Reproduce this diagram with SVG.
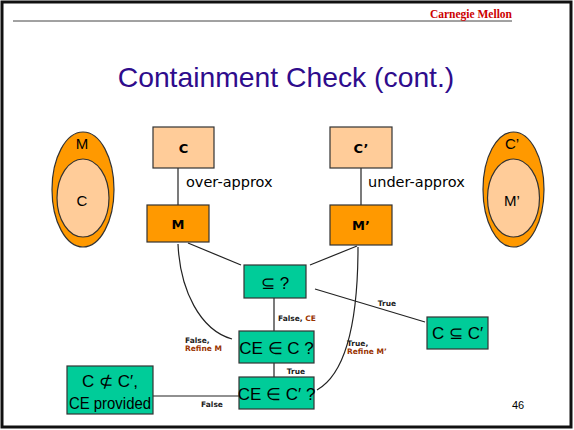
<svg xmlns="http://www.w3.org/2000/svg" width="574" height="430" viewBox="0 0 574 430">
<style>
.box{stroke:#333;stroke-width:1.2}
.lt{fill:#FFCC99}
.or{fill:#FF9900}
.tl{fill:#00CC99}
.ln{fill:none;stroke:#222;stroke-width:1.2}
.v{font-family:"DejaVu Sans",Verdana,sans-serif;fill:#000}
.a{font-family:"Liberation Sans",Arial,sans-serif;fill:#000}
.lb{font-family:"DejaVu Sans",Verdana,sans-serif;font-size:7.5px;font-weight:bold;fill:#222}
.br{fill:#993300}
</style>
<rect x="2" y="2" width="569" height="425" fill="#fff" stroke="#111" stroke-width="3"/>
<line x1="13" y1="21" x2="512" y2="21" stroke="#444" stroke-width="1"/>
<text x="512" y="18" text-anchor="end" font-family="Liberation Serif,'Times New Roman',serif" font-size="11.5" font-weight="bold" fill="#CC0000">Carnegie Mellon</text>
<text x="286" y="87" text-anchor="middle" font-family="Liberation Sans,Arial,sans-serif" font-size="28.3" fill="#2E0C8C">Containment Check (cont.)</text>

<g id="connectors">
<line class="ln" x1="178" y1="168" x2="178" y2="205"/>
<line class="ln" x1="361" y1="168" x2="361" y2="205"/>
<line class="ln" x1="188" y1="243" x2="241" y2="265"/>
<line class="ln" x1="357" y1="246" x2="310" y2="265"/>
<line class="ln" x1="315" y1="289" x2="425" y2="322"/>
<line class="ln" x1="274" y1="298" x2="274" y2="331"/>
<line class="ln" x1="274" y1="363" x2="274" y2="377"/>
<line class="ln" x1="153" y1="396" x2="239" y2="396"/>
<path class="ln" d="M178,244 C180,290 200,330 232,339"/>
<path class="ln" d="M358,247 C358,300 352,370 317,390"/>
<text class="lb" x="387" y="306" text-anchor="middle">True</text>
<text class="lb" x="278" y="321">False, <tspan class="br">CE</tspan></text>
<text class="lb" x="185" y="343">False,</text>
<text class="lb br" x="185" y="351">Refine M</text>
<text class="lb" x="347" y="346">True,</text>
<text class="lb br" x="347" y="354">Refine M’</text>
<text class="lb" x="296" y="374" text-anchor="middle">True</text>
<text class="lb" x="212" y="407" text-anchor="middle">False</text>
</g>

<g id="ellipseL">
<ellipse cx="83" cy="189.5" rx="31" ry="57.5" class="or box"/>
<ellipse cx="83" cy="198" rx="26" ry="39" class="lt box"/>
<text class="a" x="82" y="149" text-anchor="middle" font-size="15">M</text>
<text class="a" x="82" y="206" text-anchor="middle" font-size="15">C</text>
</g>
<g id="ellipseR">
<ellipse cx="513.5" cy="189.5" rx="30.5" ry="57.5" class="or box"/>
<ellipse cx="513.5" cy="198" rx="26" ry="39" class="lt box"/>
<text class="a" x="512" y="149" text-anchor="middle" font-size="15">C’</text>
<text class="a" x="512" y="206" text-anchor="middle" font-size="15">M’</text>
</g>

<g id="nodeC">
<rect x="153" y="127" width="61" height="41" class="lt box"/>
<text class="v" x="183.5" y="153" text-anchor="middle" font-size="13" font-weight="bold">C</text>
</g>
<g id="nodeM">
<rect x="147" y="205" width="62" height="37" class="or box"/>
<text class="v" x="178" y="229" text-anchor="middle" font-size="13" font-weight="bold">M</text>
</g>
<g id="nodeC2">
<rect x="330" y="127" width="62" height="41" class="lt box"/>
<text class="v" x="361" y="153" text-anchor="middle" font-size="13" font-weight="bold">C’</text>
</g>
<g id="nodeM2">
<rect x="330" y="205" width="62" height="40" class="or box"/>
<text class="v" x="361" y="230" text-anchor="middle" font-size="13" font-weight="bold">M’</text>
</g>
<text class="v" x="186" y="187" font-size="14.5" fill="#222">over-approx</text>
<text class="v" x="368" y="187" font-size="14.5" fill="#222">under-approx</text>

<g id="nodeSub">
<rect x="244" y="265" width="62" height="33" class="tl box"/>
<text class="a" x="275" y="289" text-anchor="middle" font-size="17">⊆ ?</text>
</g>
<g id="nodeCCp">
<rect x="427" y="317" width="61" height="32" class="tl box"/>
<text class="a" x="457.5" y="339" text-anchor="middle" font-size="17">C ⊆ C′</text>
</g>
<g id="nodeCEC">
<rect x="239" y="331" width="75" height="32" class="tl box"/>
<text class="a" x="276.5" y="354" text-anchor="middle" font-size="17">CE ∈  C ?</text>
</g>
<g id="nodeCECp">
<rect x="239" y="377" width="75" height="32" class="tl box"/>
<text class="a" x="276.5" y="400" text-anchor="middle" font-size="17">CE ∈  C′ ?</text>
</g>
<g id="nodeNot">
<rect x="67" y="366" width="86" height="48" class="tl box"/>
<text class="a" x="110" y="387" text-anchor="middle" font-size="17">C ⊄ C′,</text>
<text class="a" x="110" y="409" text-anchor="middle" font-size="17" textLength="82" lengthAdjust="spacingAndGlyphs">CE provided</text>
</g>
<text class="a" x="518" y="409" text-anchor="middle" font-size="11" fill="#333">46</text>
</svg>
